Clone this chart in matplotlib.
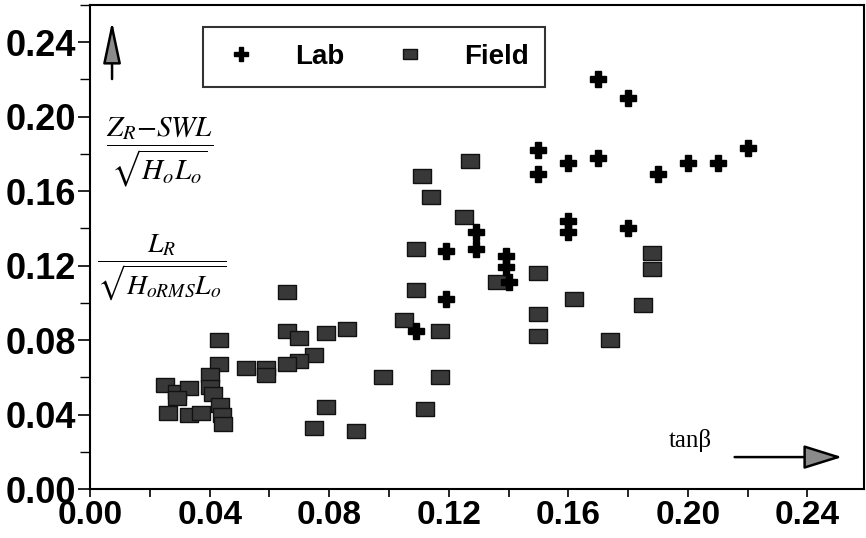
import matplotlib
matplotlib.use("Agg")
import matplotlib.pyplot as plt
from matplotlib.ticker import MultipleLocator, FormatStrFormatter
from matplotlib.lines import Line2D

# Lab data (tan beta, normalised runup / length)
lab_x = [0.170, 0.180, 0.150, 0.150, 0.160, 0.170, 0.190, 0.200, 0.210, 0.220,
         0.160, 0.160, 0.180, 0.129, 0.119, 0.129, 0.139, 0.139, 0.140, 0.119,
         0.109]
lab_y = [0.220, 0.210, 0.182, 0.169, 0.175, 0.178, 0.169, 0.175, 0.175, 0.183,
         0.144, 0.138, 0.140, 0.138, 0.128, 0.129, 0.125, 0.119, 0.111, 0.102,
         0.085]

# Field data
field_x = [0.127, 0.111, 0.114, 0.125, 0.109, 0.109, 0.105, 0.117, 0.136, 0.098,
           0.117, 0.112, 0.089, 0.188, 0.188, 0.150, 0.162, 0.185, 0.150, 0.150,
           0.174, 0.066, 0.066, 0.070, 0.079, 0.086, 0.075, 0.070, 0.066, 0.079,
           0.075, 0.043, 0.043, 0.052, 0.059, 0.059, 0.040, 0.040, 0.041, 0.025,
           0.029, 0.033, 0.029, 0.026, 0.033, 0.037, 0.0435, 0.044, 0.0445]
field_y = [0.176, 0.168, 0.157, 0.146, 0.129, 0.107, 0.091, 0.085, 0.111, 0.060,
           0.060, 0.043, 0.031, 0.127, 0.118, 0.116, 0.102, 0.099, 0.094, 0.082,
           0.080, 0.106, 0.085, 0.081, 0.084, 0.086, 0.072, 0.069, 0.067, 0.044,
           0.033, 0.080, 0.067, 0.065, 0.065, 0.061, 0.061, 0.055, 0.051, 0.056,
           0.052, 0.054, 0.049, 0.041, 0.040, 0.041, 0.045, 0.040, 0.035]

x_ticks = [0.00, 0.04, 0.08, 0.12, 0.16, 0.20, 0.24]
y_ticks = [0.00, 0.04, 0.08, 0.12, 0.16, 0.20, 0.24]

plt.rcParams["mathtext.fontset"] = "stix"

fig = plt.figure(figsize=(8.66, 5.38), dpi=100)
ax = fig.add_axes([0.104, 0.091, 0.894, 0.900])

rect = [(-1, -0.75), (1, -0.75), (1, 0.75), (-1, 0.75), (-1, -0.75)]
ax.plot(field_x, field_y, linestyle="none", marker=rect, markersize=12.5,
        markerfacecolor="#383838", markeredgecolor="#111111",
        markeredgewidth=1.0, label="Field", zorder=3)
ax.plot(lab_x, lab_y, linestyle="none", marker="P", markersize=12,
        color="black", label="Lab", zorder=4)

ax.set_xlim(0, 0.259)
ax.set_ylim(0, 0.26)
ax.set_xticks(x_ticks)
ax.set_yticks(y_ticks)
ax.xaxis.set_minor_locator(MultipleLocator(0.02))
ax.yaxis.set_minor_locator(MultipleLocator(0.02))
ax.xaxis.set_major_formatter(FormatStrFormatter("%.2f"))
ax.yaxis.set_major_formatter(FormatStrFormatter("%.2f"))

for lab in ax.get_yticklabels():
    lab.set_fontfamily("Liberation Sans")
    lab.set_fontweight("bold")
    lab.set_fontsize(26)
for lab in ax.get_xticklabels():
    lab.set_fontfamily("Liberation Sans")
    lab.set_fontweight("bold")
    lab.set_fontsize(24)

ax.tick_params(axis="y", which="major", direction="out", length=9, width=1.2, pad=1)
ax.tick_params(axis="y", which="minor", direction="out", length=7, width=1.0)
ax.tick_params(axis="x", which="both", direction="out", length=6, width=1.2, pad=2)
for s in ax.spines.values():
    s.set_linewidth(1.5)

# legend
handles = [Line2D([], [], linestyle="none", marker="P", markersize=10, color="black"),
           Line2D([], [], linestyle="none", marker=rect, markersize=10,
                  markerfacecolor="#383838", markeredgecolor="#111111")]
leg = ax.legend(handles, ["Lab", "Field"], ncol=2, loc="center",
                bbox_to_anchor=(0.146, 0.833, 0.442, 0.119), mode="expand",
                borderaxespad=0, frameon=True, fancybox=False, edgecolor="black",
                prop={"family": "Liberation Sans", "weight": "bold", "size": 20},
                handletextpad=1.2, columnspacing=2.0, borderpad=0.6,
                handlelength=1.5)
leg.get_frame().set_linewidth(1.5)

# y-axis label formulas
ax.text(0.09, 0.696, r"$\dfrac{Z_R\mathrm{-}SWL}{\sqrt{H_oL_o}}$",
        transform=ax.transAxes, ha="center", va="center", fontsize=21)
ax.text(0.093, 0.457, r"$\dfrac{L_R}{\sqrt{H_{oRMS}L_o}}$",
        transform=ax.transAxes, ha="center", va="center", fontsize=20)

# axis arrows
ax.annotate("", xy=(0.0284, 0.972), xytext=(0.0284, 0.841),
            xycoords="axes fraction", textcoords="axes fraction",
            arrowprops=dict(arrowstyle="-|>,head_length=2.6,head_width=0.55",
                            facecolor="#8a8a8a", edgecolor="black", lw=1.8))
ax.annotate("", xy=(0.975, 0.066), xytext=(0.829, 0.066),
            xycoords="axes fraction", textcoords="axes fraction",
            arrowprops=dict(arrowstyle="-|>,head_length=2.4,head_width=0.75",
                            facecolor="#8a8a8a", edgecolor="black", lw=1.8))
ax.text(0.775, 0.101, "tan\u03b2", transform=ax.transAxes, ha="center",
        va="center", fontsize=18, family="Liberation Serif")

fig.savefig("out.png", dpi=100)
